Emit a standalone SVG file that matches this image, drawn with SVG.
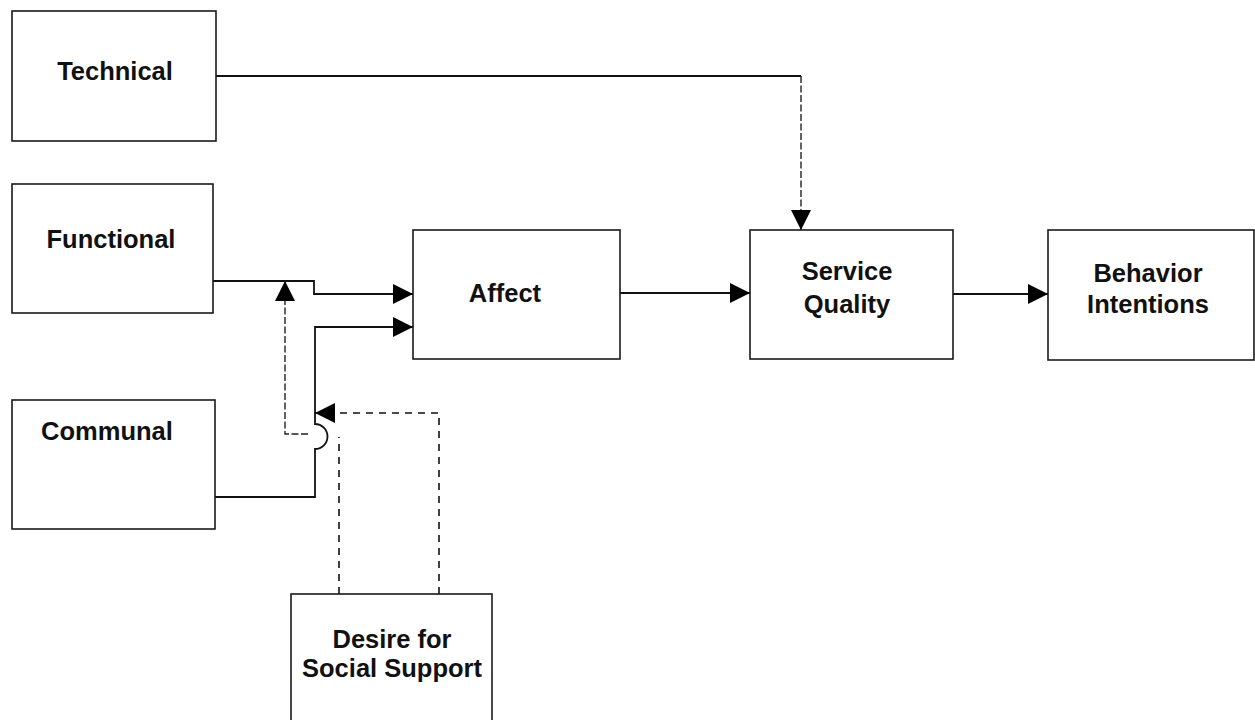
<svg xmlns="http://www.w3.org/2000/svg" width="1255" height="720" viewBox="0 0 1255 720">
<style>
.box{fill:#fff;stroke:#1a1a1a;stroke-width:1.6}
.lbl{font-family:"Liberation Sans",Arial,sans-serif;font-weight:bold;font-size:25.5px;fill:#111;text-anchor:middle}
.ln{fill:none;stroke:#111;stroke-width:1.8}
.fd{fill:none;stroke:#222;stroke-width:1.4;stroke-dasharray:7 2.5}
.dd{fill:none;stroke:#111;stroke-width:1.6;stroke-dasharray:7 6}
</style>
<defs>
<marker id="ah" viewBox="0 0 20 20" refX="20" refY="10" markerWidth="20" markerHeight="20" markerUnits="userSpaceOnUse" orient="auto">
<path d="M0,0 L20,10 L0,20 z" fill="#000"/>
</marker>
</defs>
<rect width="1255" height="720" fill="#fff"/>
<g id="connectors">
<path class="ln" d="M216,76 H801"/>
<path class="fd" d="M801,76 V230" marker-end="url(#ah)"/>
<path class="ln" d="M213,281 H314 V294 H413" marker-end="url(#ah)"/>
<path class="ln" d="M215,497 H315 V449 A12,12 0 0 0 315,424 V327 H413" marker-end="url(#ah)"/>
<path class="fd" d="M308,434 H285 V281" marker-end="url(#ah)"/>
<path class="dd" d="M339,594 V437"/>
<path class="dd" d="M439,594 V413 H315" marker-end="url(#ah)"/>
<path class="ln" d="M620,293 H750" marker-end="url(#ah)"/>
<path class="ln" d="M953,294 H1048" marker-end="url(#ah)"/>
</g>
<g id="technical">
<rect class="box" x="12" y="11" width="204" height="130"/>
<text class="lbl" x="115" y="80">Technical</text>
</g>
<g id="functional">
<rect class="box" x="12" y="184" width="201" height="129"/>
<text class="lbl" x="111" y="248">Functional</text>
</g>
<g id="communal">
<rect class="box" x="12" y="400" width="203" height="129"/>
<text class="lbl" x="107" y="440">Communal</text>
</g>
<g id="affect">
<rect class="box" x="413" y="230" width="207" height="129"/>
<text class="lbl" x="505" y="302">Affect</text>
</g>
<g id="service-quality">
<rect class="box" x="750" y="230" width="203" height="129"/>
<text class="lbl" x="847" y="280">Service</text>
<text class="lbl" x="847" y="313">Quality</text>
</g>
<g id="behavior-intentions">
<rect class="box" x="1048" y="230" width="206" height="130"/>
<text class="lbl" x="1148" y="282">Behavior</text>
<text class="lbl" x="1148" y="313">Intentions</text>
</g>
<g id="desire">
<rect class="box" x="291" y="594" width="201" height="140"/>
<text class="lbl" x="392" y="648">Desire for</text>
<text class="lbl" x="392" y="677">Social Support</text>
</g>
</svg>
